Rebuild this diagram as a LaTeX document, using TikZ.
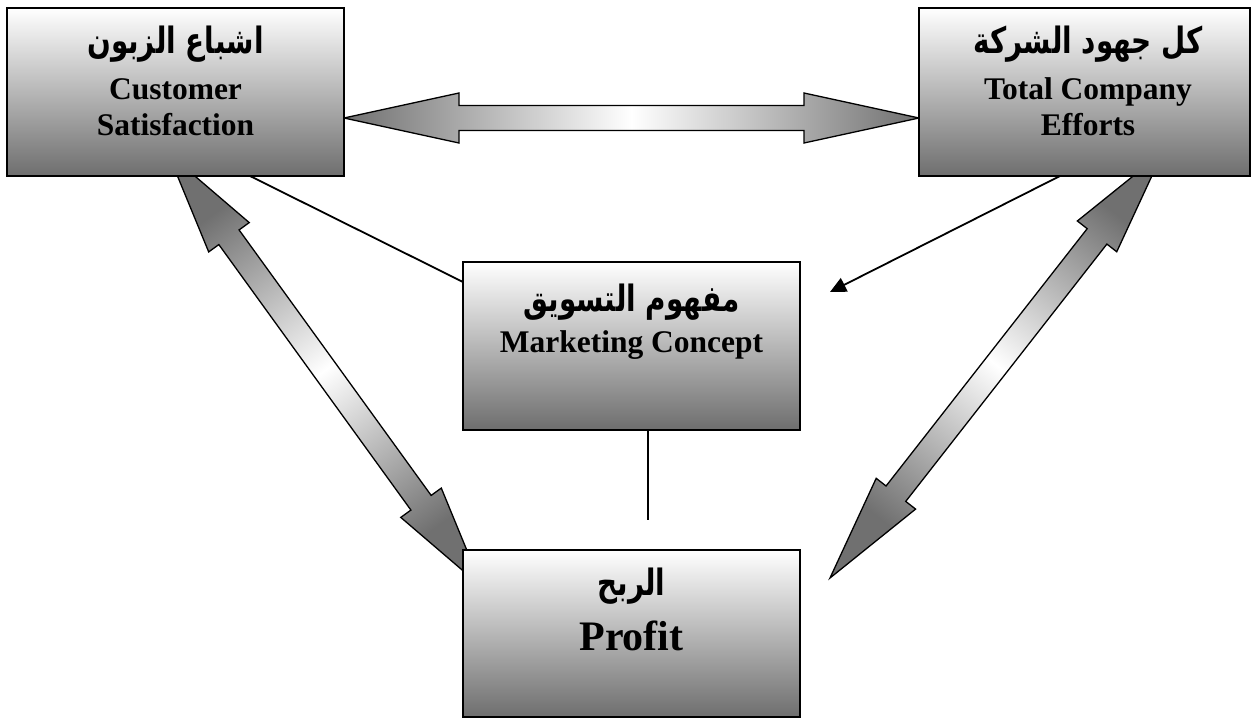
\documentclass[tikz,border=0pt]{standalone}
\usepackage{graphicx}
\usepackage{fontspec}
\setmainfont{Liberation Serif}
\newfontfamily\arabicfont[Script=Arabic]{DejaVu Sans}
\TeXXeTstate=1
\usetikzlibrary{calc,arrows.meta,backgrounds}

\definecolor{boxgray}{HTML}{6E6E6E}
\definecolor{arrgray}{HTML}{707070}

% Arabic line, set right to left and stretched a little upwards
\newcommand\arline[1]{\scalebox{0.96}[1.25]{\beginR #1\endR}}

\tikzset{
  box/.style={draw=black, line width=2.2pt, top color=white, bottom color=boxgray,
    minimum width=337pt, minimum height=168pt, anchor=north west,
    inner sep=0pt, outer sep=0pt},
  entext/.style={font=\bfseries\fontsize{31.5}{36}\selectfont, anchor=base, inner sep=0pt},
  bigtext/.style={font=\bfseries\fontsize{42}{48}\selectfont, anchor=base, inner sep=0pt},
  artext/.style={font=\arabicfont\bfseries\fontsize{29}{34}\selectfont, anchor=base, inner sep=0pt},
  link/.style={line width=1.8pt},
  blockarrow/.style={draw=black, line width=1.3pt, line join=miter}
}

% double-headed block arrow between two tips, #3 = head length
\newcommand\blockarrow[3]{%
  \path let \p1=($(#2)-(#1)$) in \pgfextra{%
    \pgfmathsetmacro\baAng{atan2(\y1,\x1)}%
    \pgfmathsetmacro\baLen{veclen(\x1,\y1)}%
    \pgfmathsetmacro\baShd{\baAng-90}%
    \xdef\baAngG{\baAng}\xdef\baLenG{\baLen}\xdef\baShdG{\baShd}};
  \begin{scope}[shift={(#1)}, rotate=\baAngG]
    \shadedraw[blockarrow, top color=arrgray, bottom color=arrgray, middle color=white,
      shading angle=\baShdG]
      (0,0) -- (#3,25) -- (#3,12.5) -- (\baLenG-#3,12.5) -- (\baLenG-#3,25)
      -- (\baLenG,0) -- (\baLenG-#3,-25) -- (\baLenG-#3,-12.5) -- (#3,-12.5)
      -- (#3,-25) -- cycle;
  \end{scope}}

\begin{document}
\begin{tikzpicture}[x=1pt, y=-1pt]
\useasboundingbox (0,0) rectangle (1251,720);

% boxes
\node[box] (cs) at (7,8) {};
\node[box, minimum width=331pt] (tce) at (919,8) {};
\node[box] (mc) at (463,262) {};
\node[box, minimum height=167pt] (pr) at (463,550) {};

% box texts
\node[artext]  (csA) at ($(cs.north west)+(168.5,45)$) {\arline{اشباع الزبون}};
\node[entext]  (csB) at ($(cs.north west)+(168.5,91)$) {Customer};
\node[entext]  (csC) at ($(cs.north west)+(168.5,127)$) {Satisfaction};

\node[artext]  (tceA) at ($(tce.north west)+(169,45)$) {\arline{كل جهود الشركة}};
\node[entext]  (tceB) at ($(tce.north west)+(169,91)$) {Total Company};
\node[entext]  (tceC) at ($(tce.north west)+(169,127)$) {Efforts};

\node[artext]  (mcA) at ($(mc.north west)+(168.5,49)$) {\arline{مفهوم التسويق}};
\node[entext]  (mcB) at ($(mc.north west)+(168.5,90)$) {Marketing Concept};

\node[artext]  (prA) at ($(pr.north west)+(168.5,45)$) {\arline{الربح}};
\node[bigtext] (prB) at ($(pr.north west)+(168.5,100)$) {Profit};

% tips of the block arrows
\coordinate (h1) at ($(cs.north east)+(0,110)$);
\coordinate (h2) at ($(tce.north west)+(0,110)$);
\coordinate (l1) at ($(cs.south west)+(161,-23)$);
\coordinate (l2) at ($(pr.north west)+(19,37)$);
\coordinate (r1) at ($(tce.south west)+(244,-24)$);
\coordinate (r2) at ($(pr.north east)+(30,28)$);

\begin{pgfonlayer}{background}
  \blockarrow{h1}{h2}{115}
  \blockarrow{l1}{l2}{104}
  \blockarrow{r2}{r1}{107}
\end{pgfonlayer}

% plain connectors
\draw[link] ($(cs.south west)+(243,0)$) -- ($(mc.north west)+(0,20)$);
\draw[link, -{Triangle[length=16pt,width=15pt]}] ($(tce.south west)+(141,0)$) -- ($(mc.north east)+(30,30)$);
\draw[link] ($(mc.south west)+(185,0)$) -- ($(pr.north west)+(185,-30)$);
\end{tikzpicture}
\end{document}
